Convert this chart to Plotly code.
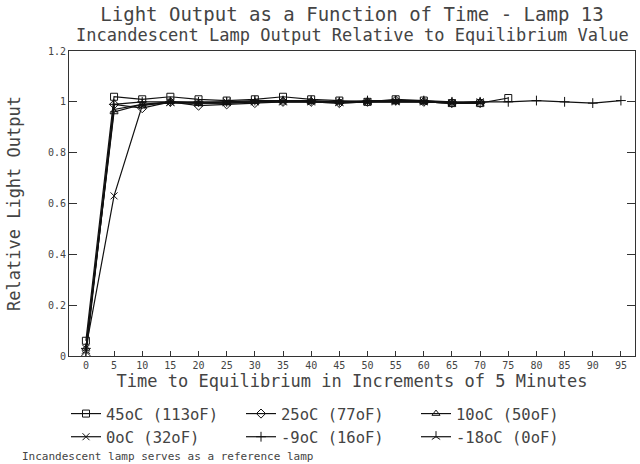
import plotly.graph_objects as go

time_all = [0, 5, 10, 15, 20, 25, 30, 35, 40, 45, 50, 55, 60, 65, 70, 75, 80, 85, 90, 95]

series_names = ["45oC (113oF)", "25oC (77oF)", "10oC (50oF)",
                "0oC (32oF)", "-9oC (16oF)", "-18oC (0oF)"]

v45 = [0.06, 1.02, 1.01, 1.02, 1.01, 1.005, 1.01, 1.02, 1.01, 1.005, 1.0, 1.01, 1.005, 0.995, 0.995, 1.015]
v25 = [0.0, 0.99, 0.975, 1.0, 0.985, 0.99, 0.995, 1.0, 1.0, 0.995, 1.0, 1.005, 1.0, 0.995, 0.995]
v10 = [0.03, 0.96, 0.99, 1.0, 0.995, 0.995, 1.0, 1.005, 1.0, 1.0, 1.0, 1.0, 1.0, 0.995, 1.0]
v0 = [0.03, 0.63, 0.985, 1.0, 0.995, 1.0, 1.0, 1.0, 1.0, 1.0, 1.0, 1.0, 1.0, 0.995, 1.0]
vm9 = [0.03, 0.99, 1.0, 1.0, 1.0, 1.0, 1.005, 1.005, 1.005, 1.0, 1.005, 1.005, 1.005, 1.0, 1.0, 1.0, 1.005, 1.0, 0.995, 1.005]
vm18 = [0.02, 0.97, 0.99, 0.995, 0.995, 0.995, 1.0, 1.0, 1.0, 0.995, 1.0, 1.0, 1.0, 0.995, 0.995]

values = [v45, v25, v10, v0, vm9, vm18]
symbols = ["square-open", "diamond-open", "triangle-up-open", "x-thin-open", "cross-thin-open", "y-up-open"]

title_text = "Light Output as a Function of Time - Lamp 13"
subtitle_text = "Incandescent Lamp Output Relative to Equilibrium Value"
x_title = "Time to Equilibrium in Increments of 5 Minutes"
y_title = "Relative Light Output"
footnote = "Incandescent lamp serves as a reference lamp"

FONT = "DejaVu Sans Mono"
INK = "#444444"

fig = go.Figure()
for name, vals, sym in zip(series_names, values, symbols):
    fig.add_trace(go.Scatter(
        x=time_all[:len(vals)], y=vals, name=name, mode="lines+markers",
        line=dict(color="#111", width=1.2),
        marker=dict(symbol=sym, size=7, color="#111", line=dict(color="#111", width=1)),
    ))

W, H = 640, 464
L, R, T, B = 69, 5, 51, 108
pw, ph = W - L - R, H - T - B

fig.update_layout(
    width=W, height=H,
    margin=dict(l=L, r=R, t=T, b=B, autoexpand=False),
    paper_bgcolor="white", plot_bgcolor="white",
    font=dict(family=FONT, color=INK),
    title=dict(text=title_text, x=0.5, xref="paper", y=1 - 14 / H, yanchor="middle",
               font=dict(size=19, family=FONT, color=INK)),
    showlegend=True,
    legend=dict(orientation="h", x=(66 - L) / pw, xanchor="left",
                y=(T + ph - 397) / ph, yanchor="top",
                entrywidth=130, entrywidthmode="pixels",
                font=dict(size=15.5, family=FONT, color=INK),
                bgcolor="rgba(0,0,0,0)", itemwidth=30, tracegroupgap=0),
    annotations=[
        dict(text=subtitle_text, xref="paper", yref="paper", x=0.5,
             y=(T + ph - 35) / ph, xanchor="center", yanchor="middle", showarrow=False,
             font=dict(size=17, family=FONT, color=INK)),
        dict(text=footnote, xref="paper", yref="paper", x=(20 - L) / pw,
             y=(T + ph - 457) / ph, xanchor="left", yanchor="middle", showarrow=False,
             font=dict(size=11, family=FONT, color=INK)),
    ],
)

fig.update_xaxes(
    range=[-3, 97.5], tickmode="array", tickvals=time_all,
    ticks="inside", ticklen=5, tickcolor="#333",
    showline=True, linecolor="#333", linewidth=1, mirror=True,
    showgrid=False, zeroline=False,
    tickfont=dict(size=10, family=FONT, color=INK),
    title=dict(text=x_title, font=dict(size=17, family=FONT, color=INK), standoff=3),
)
fig.update_yaxes(
    range=[0, 1.2], tickmode="array", tickvals=[0, 0.2, 0.4, 0.6, 0.8, 1, 1.2],
    ticks="inside", ticklen=8, tickcolor="#333",
    showline=True, linecolor="#333", linewidth=1, mirror="ticks",
    showgrid=False, zeroline=False,
    tickfont=dict(size=10, family=FONT, color=INK),
    title=dict(text=y_title, font=dict(size=17, family=FONT, color=INK), standoff=22),
)

fig.write_html("out.html")
